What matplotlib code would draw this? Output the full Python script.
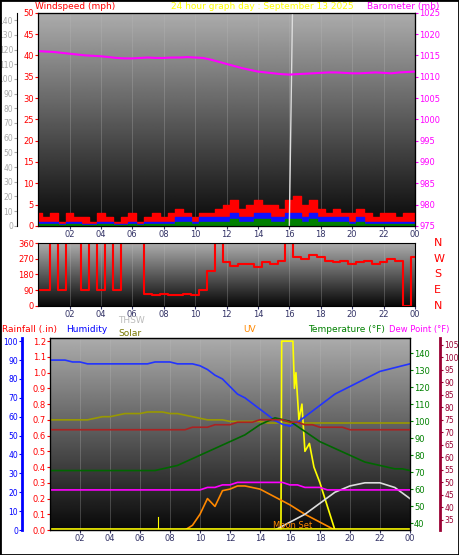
import numpy as np
import matplotlib
matplotlib.use("Agg")
import matplotlib.pyplot as plt

hours = np.arange(0, 24.5, 0.5)
baro = [1016,1015.9,1015.8,1015.6,1015.4,1015.2,1015.0,1014.9,1014.8,1014.6,1014.4,1014.3,1014.3,1014.4,1014.5,1014.4,1014.4,1014.5,1014.5,1014.6,1014.5,1014.4,1014.0,1013.5,1013.0,1012.5,1012.0,1011.6,1011.2,1011.0,1010.8,1010.6,1010.5,1010.6,1010.7,1010.8,1010.9,1011.0,1011.0,1010.9,1010.8,1010.8,1010.9,1011.0,1010.9,1010.8,1011.0,1011.1,1011.2]
gust = [3,2,3,1,3,2,2,1,3,2,1,2,3,1,2,3,2,3,4,3,2,3,3,4,5,6,4,5,6,5,5,4,6,7,5,6,4,3,4,3,3,4,3,2,3,3,2,3,3]
wind = [1,1,1,0.5,1,1,0.5,0.5,1,1,0.5,0.5,1,0.5,1,1,1,1,2,2,1,2,2,2,2,3,2,2,3,3,2,2,3,3,2,3,2,2,2,2,1,2,1,1,1,1,1,1,1]
wdir = [90,90,360,90,360,360,90,360,90,360,90,360,360,360,70,60,70,60,60,70,60,90,200,360,250,230,240,240,220,250,240,260,360,280,270,290,280,260,250,260,240,250,260,240,250,270,260,0,280]
hum = [90,90,90,89,89,88,88,88,88,88,88,88,88,88,89,89,89,88,88,88,87,85,82,80,76,72,70,67,64,61,58,56,55,57,60,63,66,69,72,74,76,78,80,82,84,85,86,87,88]
temp = [71,71,71,71,71,71,71,71,71,71,71,71,71,71,71,72,73,74,76,78,80,82,84,86,88,90,92,95,98,100,102,101,100,97,94,91,88,86,84,82,80,78,76,75,74,73,72,72,71]
heat = [71,71,71,71,71,71,71,71,71,71,71,71,71,71,71,71,71,71,71,72,72,72,73,73,73,74,74,74,75,75,75,75,74,74,73,73,72,72,72,72,71,71,71,71,71,71,71,71,71]
dew = [47,47,47,47,47,47,47,47,47,47,47,47,47,47,47,47,47,47,47,47,47,48,48,49,49,50,50,50,50,50,50,50,49,49,48,48,48,47,47,47,47,47,47,47,47,47,47,47,47]
solar = [0.70,0.70,0.70,0.70,0.70,0.70,0.71,0.72,0.72,0.73,0.74,0.74,0.74,0.75,0.75,0.75,0.74,0.74,0.73,0.72,0.71,0.70,0.70,0.70,0.69,0.69,0.69,0.69,0.69,0.68,0.68,0.68,0.68,0.68,0.68,0.68,0.68,0.68,0.68,0.68,0.68,0.68,0.68,0.68,0.68,0.68,0.68,0.68,0.68]
uv_t = [0,15.4,15.45,16.2,16.3,16.4,16.6,16.8,17.0,17.3,17.6,18.0,18.5,19.0,24]
uv_v = [0,0,1.2,1.2,0.9,1.0,0.7,0.8,0.5,0.55,0.4,0.3,0.15,0.0,0]
orange_t = [9,9.5,10,10.5,11,11.5,12,12.5,13,14,15,16,17,18,19]
orange_v = [0.0,0.03,0.1,0.2,0.15,0.25,0.26,0.28,0.28,0.26,0.21,0.16,0.1,0.05,0.0]
moon_t = [15,16,17,18,19,20,21,22,23,24]
moon_v = [0,0.05,0.1,0.17,0.24,0.28,0.3,0.3,0.27,0.2]
xt = [2,4,6,8,10,12,14,16,18,20,22,24]
xl = ["02","04","06","08","10","12","14","16","18","20","22","00"]

fig = plt.figure(figsize=(4.59,5.55), dpi=100, facecolor="white")
grad = np.linspace(1, 0, 256).reshape(-1, 1)
def bg(ax):
    ax.imshow(grad, extent=[0,1,0,1], transform=ax.transAxes, aspect="auto", cmap="gray", vmin=-0.05, vmax=1.5, zorder=0)
    for t in xt: ax.axvline(t, color="#bbbbbb", lw=0.4, alpha=0.5, zorder=1)
    ax.set_xlim(0,24); ax.set_xticks(xt); ax.set_xticklabels(xl)
    ax.tick_params(labelsize=6, length=2, pad=1, colors="#333366")
fs = 6.5
# panel 1
a1 = fig.add_axes([0.083,0.593,0.821,0.384]); bg(a1)
a1.fill_between(hours, gust, color="red", step="mid", zorder=2)
a1.fill_between(hours, wind, color="#1010ff", step="mid", zorder=3)
a1.fill_between(hours, np.array(wind)*0.5, color="green", step="mid", zorder=4)
a1.set_ylim(0,50); a1.set_yticks(range(0,51,5))
a1.tick_params(axis="y", colors="red")
a1.plot([16,16.2],[0,50], color="#dddddd", lw=1, zorder=5)
b1 = a1.twinx(); b1.set_ylim(975,1025); b1.set_yticks(range(975,1026,5))
b1.plot(hours, baro, color="magenta", lw=1.5)
b1.tick_params(labelsize=6, length=2, pad=1, colors="magenta")
c1 = a1.twinx(); c1.spines["left"].set_position(("outward",15)); c1.yaxis.set_ticks_position("left")
c1.set_ylim(0,145); c1.set_yticks(range(0,141,10)); c1.tick_params(labelsize=5.5, length=2, pad=1, colors="#aaaaaa")
fig.text(0.076,0.988,"Windspeed (mph)",color="red",fontsize=fs,va="center")
fig.text(0.373,0.988,"24 hour graph day : September 13 2025",color="yellow",fontsize=fs,va="center")
fig.text(0.80,0.988,"Barometer (mb)",color="magenta",fontsize=fs,va="center")
# panel 2
a2 = fig.add_axes([0.083,0.449,0.821,0.113]); bg(a2)
a2.plot(hours, wdir, color="red", lw=1.5, drawstyle="steps-mid")
a2.set_ylim(0,360); a2.set_yticks(range(0,361,90)); a2.tick_params(axis="y", colors="red")
for v,l in zip([360,270,180,90,0],"NWSEN"):
    a2.text(1.05, v/360, l, transform=a2.transAxes, color="red", fontsize=8, va="center")
# panel 3
a3 = fig.add_axes([0.109,0.045,0.784,0.346]); bg(a3)
a3.set_ylim(0,1.22); a3.set_yticks(np.round(np.arange(0,1.21,0.1),1))
a3.tick_params(axis="y", colors="red")
a3.plot(hours, solar, color="#999900", lw=1.2)
a3.plot(uv_t, uv_v, color="yellow", lw=1.2)
a3.plot(orange_t, orange_v, color="#ff8800", lw=1.2)
a3.plot(moon_t, moon_v, color="#dddddd", lw=1.2)
a3.axvline(7.2, ymax=0.07, color="yellow", lw=0.8)
a3.axhline(0.005, color="yellow", lw=1.2)
a3.text(16.2,0.01,"Moon Set",color="#ff8800",fontsize=6,ha="center")
h3 = a3.twinx(); h3.spines["left"].set_position(("outward",20)); h3.yaxis.set_ticks_position("left")
h3.set_ylim(0,101.7); h3.set_yticks(range(0,101,10)); h3.tick_params(labelsize=5.5,length=2,pad=1,colors="blue")
h3.spines["left"].set_color("blue"); h3.spines["left"].set_linewidth(2)
h3.plot(hours, hum, color="#2233ff", lw=1.2)
t3 = a3.twinx(); t3.set_ylim(36,149); t3.set_yticks(range(40,141,10)); t3.tick_params(labelsize=6,length=2,pad=1,colors="green")
t3.plot(hours, temp, color="#006600", lw=1.2)
d3 = a3.twinx(); d3.spines["right"].set_position(("outward",22)); d3.set_ylim(31,107.6); d3.set_yticks(range(35,106,5))
d3.tick_params(labelsize=5.5,length=2,pad=1,colors="#990033"); d3.spines["right"].set_color("#990033"); d3.spines["right"].set_linewidth(2)
d3.plot(hours, heat, color="#aa2222", lw=1.2)
d3.plot(hours, dew, color="magenta", lw=1.2)
fig.text(0.004,0.406,"Rainfall (.in)",color="red",fontsize=fs,va="center")
fig.text(0.144,0.406,"Humidity",color="blue",fontsize=fs,va="center")
fig.text(0.257,0.423,"THSW",color="#bbbbbb",fontsize=fs,va="center")
fig.text(0.257,0.400,"Solar",color="#777700",fontsize=fs,va="center")
fig.text(0.53,0.406,"UV",color="#ff8800",fontsize=fs,va="center")
fig.text(0.672,0.406,"Temperature (°F)",color="green",fontsize=fs,va="center")
fig.text(0.848,0.406,"Dew Point (°F)",color="magenta",fontsize=fs-0.5,va="center")
fig.add_artist(plt.Rectangle((0,0),1,1,transform=fig.transFigure,fill=False,lw=2,ec="black"))
fig.savefig("out.png", dpi=100)
